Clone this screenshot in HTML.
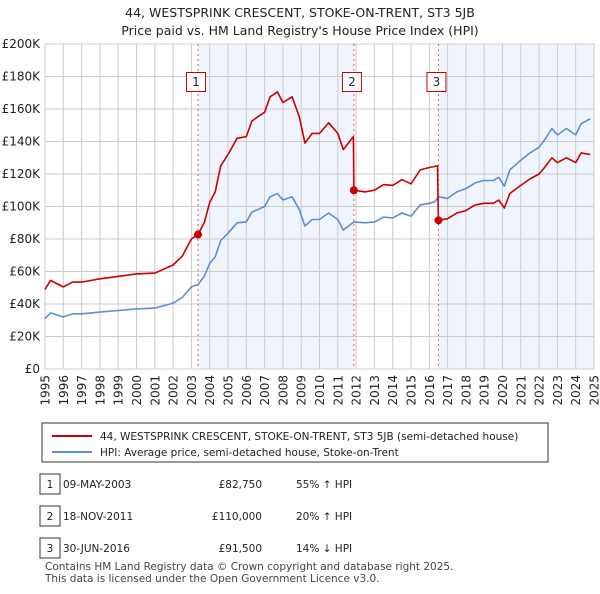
<!DOCTYPE html>
<html><head><meta charset="utf-8"><style>
body{margin:0;background:#fff;font-family:"DejaVu Sans","Liberation Sans",sans-serif;}
svg text{font-family:"DejaVu Sans","Liberation Sans",sans-serif;}
</style></head><body>
<svg id="c" width="600" height="590" xmlns="http://www.w3.org/2000/svg">
<text x="300" y="17" text-anchor="middle" font-size="12.5" fill="#222">44, WESTSPRINK CRESCENT, STOKE-ON-TRENT, ST3 5JB</text>
<text x="300" y="35" text-anchor="middle" font-size="12.5" fill="#222">Price paid vs. HM Land Registry's House Price Index (HPI)</text>
<g id="plot"></g>
<g>
<rect x="42" y="423" width="506" height="39" fill="#fff" stroke="#333" stroke-width="1"/>
<line x1="52" y1="436" x2="92" y2="436" stroke="#cc0000" stroke-width="2"/>
<text x="100" y="440" font-size="10.5" fill="#222">44, WESTSPRINK CRESCENT, STOKE-ON-TRENT, ST3 5JB (semi-detached house)</text>
<line x1="52" y1="452" x2="92" y2="452" stroke="#5b8fd0" stroke-width="2"/>
<text x="100" y="456" font-size="10.5" fill="#222">HPI: Average price, semi-detached house, Stoke-on-Trent</text>
</g>
<g font-size="10.5" fill="#222">
<rect x="40" y="474" width="20" height="20" fill="#fff" stroke="#333"/><text x="50" y="488" text-anchor="middle">1</text>
<text x="63" y="488">09-MAY-2003</text><text x="262" y="488" text-anchor="end">£82,750</text><text x="296" y="488">55% ↑ HPI</text>
<rect x="40" y="506" width="20" height="20" fill="#fff" stroke="#333"/><text x="50" y="520" text-anchor="middle">2</text>
<text x="63" y="520">18-NOV-2011</text><text x="262" y="520" text-anchor="end">£110,000</text><text x="296" y="520">20% ↑ HPI</text>
<rect x="40" y="538" width="20" height="20" fill="#fff" stroke="#333"/><text x="50" y="552" text-anchor="middle">3</text>
<text x="63" y="552">30-JUN-2016</text><text x="262" y="552" text-anchor="end">£91,500</text><text x="296" y="552">14% ↓ HPI</text>
</g>
<text x="45" y="570" font-size="10.5" fill="#444">Contains HM Land Registry data © Crown copyright and database right 2025.</text>
<text x="45" y="582" font-size="10.5" fill="#444">This data is licensed under the Open Government Licence v3.0.</text>
</svg>
<script>
const hpiYears=[1995,1995.3,1996,1996.5,1997,1998,1999,2000,2001,2002,2002.5,2003,2003.36,2003.7,2004,2004.3,2004.6,2005,2005.5,2006,2006.3,2006.6,2007,2007.3,2007.7,2008,2008.5,2008.9,2009.2,2009.6,2010,2010.5,2011,2011.3,2011.88,2012.5,2013,2013.5,2014,2014.5,2015,2015.5,2016,2016.3,2016.5,2017,2017.5,2018,2018.5,2019,2019.5,2019.8,2020.1,2020.4,2021,2021.5,2022,2022.3,2022.7,2023,2023.5,2024,2024.3,2024.8];
const hpiValues=[31,34.5,32,34,34,35,36,37,37.5,40.5,44,50.5,52,57,65,69,79,83.5,90,90.5,96.5,98,100,106,108,104,106,98,88,92,92,96,92,85.5,90.5,90,90.5,93.5,93,96,94,101,102,103,106,105,109,111,114.5,116,116,118,112.5,122.5,128.5,133,136.5,141,148,144,148,144,151,154];
const redYears=[1995,1995.3,1996,1996.5,1997,1998,1999,2000,2001,2002,2002.5,2003,2003.36,2003.7,2004,2004.3,2004.6,2005,2005.5,2006,2006.3,2006.6,2007,2007.3,2007.7,2008,2008.5,2008.9,2009.2,2009.6,2010,2010.5,2011,2011.3,2011.85,2011.88,2012.5,2013,2013.5,2014,2014.5,2015,2015.5,2016,2016.45,2016.5,2017,2017.5,2018,2018.5,2019,2019.5,2019.8,2020.1,2020.4,2021,2021.5,2022,2022.3,2022.7,2023,2023.5,2024,2024.3,2024.8];
const redValues=[49,54.5,50.5,53.5,53.5,55.5,57,58.5,59,64,69.5,80,82.75,90,102.5,109,125,132,142,143,152.5,155,158,167.5,170.5,164,167.5,155,139,145,145,151.5,145,135,143,110,109,110,113.5,113,116.5,114,122.5,124,125,91.5,92.5,96,97.5,101,102,102,104,99,108,113,117,120,124,130,127,130,127,133,132];
const saleYears=[2003.36,2011.88,2016.5];
const saleValues=[82.75,110,91.5];
const saleLabels=["1","2","3"];
const yTicks=[0,20,40,60,80,100,120,140,160,180,200];
const xTicks=[1995,1996,1997,1998,1999,2000,2001,2002,2003,2004,2005,2006,2007,2008,2009,2010,2011,2012,2013,2014,2015,2016,2017,2018,2019,2020,2021,2022,2023,2024,2025];

const X0=45,X1=594,Y0=369,Y1=44;
const xs=y=>X0+(y-1995)/30*(X1-X0);
const ys=v=>Y0-v/200*(Y0-Y1);
const NS="http://www.w3.org/2000/svg";
const plot=document.getElementById('plot');
function mk(t,a,p){const e=document.createElementNS(NS,t);for(const k in a)e.setAttribute(k,a[k]);(p||plot).appendChild(e);return e;}
const bg=mk('rect',{x:X0,y:Y1,width:X1-X0,height:Y0-Y1,fill:'#fff'});


const sh1=mk('rect',{x:xs(saleYears[0]),y:Y1,width:xs(saleYears[1])-xs(saleYears[0]),height:Y0-Y1,fill:'#f0f5fd'});


const sh2=mk('rect',{x:xs(saleYears[2]),y:Y1,width:X1-xs(saleYears[2]),height:Y0-Y1,fill:'#f0f5fd'});


yTicks.forEach(v=>{
 const l=mk('line',{x1:X0,x2:X1,y1:ys(v),y2:ys(v),stroke:'#cccccc','stroke-width':1});
 
 
 const t=mk('text',{x:40,y:ys(v)+4,'text-anchor':'end','font-size':12,fill:'#222'});
 t.textContent='£'+v+(v?'K':'');
 
 
});
xTicks.forEach(y=>{
 const l=mk('line',{x1:xs(y),x2:xs(y),y1:Y1,y2:Y0,stroke:'#cccccc','stroke-width':1});
 
 
 const tx=xs(y)+4.5, ty=375;
 const t=mk('text',{x:tx,y:ty,'text-anchor':'end','font-size':12,fill:'#222',transform:'rotate(-90 '+tx+' '+ty+')'});
 t.textContent=y;
 
 
});
saleYears.forEach((y,i)=>{
 const l=mk('line',{x1:xs(y),x2:xs(y),y1:Y1,y2:Y0,stroke:'#e06060','stroke-width':1,'stroke-dasharray':'2,3'});
 
 
});
function path(xa,va,col,name){
 const d=xa.map((x,i)=>(i?'L':'M')+xs(x).toFixed(1)+','+ys(va[i]).toFixed(1)).join('');
 const p=mk('path',{d:d,fill:'none',stroke:col,'stroke-width':1.6,'stroke-linejoin':'round'});
 
 
}
path(hpiYears,hpiValues,'#5b8fd0','hpi-line');
path(redYears,redValues,'#cc0000','property-price-line');
saleYears.forEach((y,i)=>{
 const c=mk('circle',{cx:xs(y),cy:ys(saleValues[i]),r:4,fill:'#cc0000'});
 
 
 const bx=xs(y)-2;
 const r=mk('rect',{x:bx-9.5,y:72.5,width:19,height:19,fill:'#fff',stroke:'#cc0000'});
 
 
 const t=mk('text',{x:bx,y:86,'text-anchor':'middle','font-size':12,fill:'#222'});
 t.textContent=saleLabels[i];
 
 
});
</script>
</body></html>
